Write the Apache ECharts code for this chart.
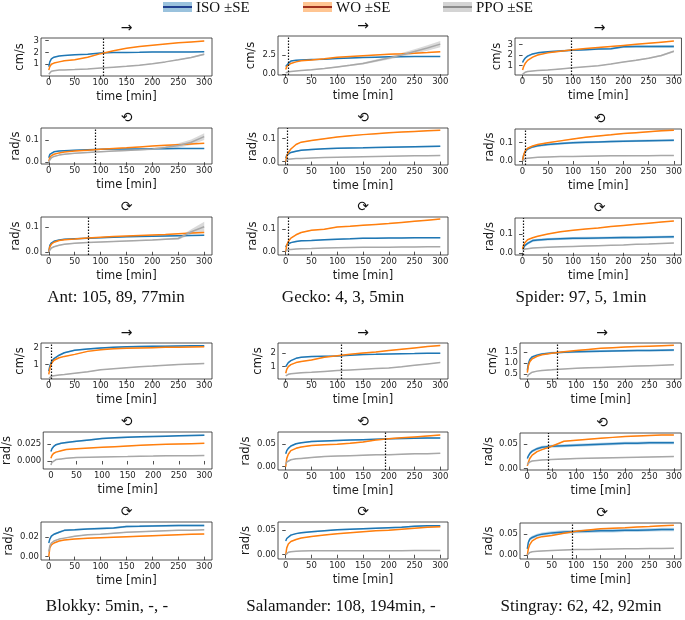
<!DOCTYPE html>
<html><head><meta charset="utf-8">
<script src="https://cdn.jsdelivr.net/npm/echarts@6/dist/echarts.min.js"></script>
<style>html,body{margin:0;padding:0;background:#fff}#c{width:685px;height:620px}</style>
</head><body><div id="c"></div>
<script>
// ---------- shared ----------
const times = [0,2,5,10,20,30,50,75,100,125,150,175,200,225,250,275,300];
const xTicks = [0,50,100,150,200,250,300];
const models = ['ISO ±SE','WO ±SE','PPO ±SE'];
const dirTitles = ['→','⟲','⟳'];
const captions = ['Ant: 105, 89, 77min','Gecko: 4, 3, 5min','Spider: 97, 5, 1min','Blokky: 5min, -, -','Salamander: 108, 194min, -','Stingray: 62, 42, 92min'];

// ---------- Ant ----------
const antThresh = [105, 89, 77];
const antFwdISO = [0.8,1.2,1.45,1.6,1.7,1.75,1.8,1.85,1.95,2.0,2.0,2.02,2.05,2.05,2.05,2.05,2.07];
const antFwdISOse = [0.05,0.04,0.03,0.03,0.03,0.03,0.03,0.03,0.03,0.03,0.03,0.03,0.03,0.03,0.03,0.04,0.04];
const antFwdWO = [0.5,0.8,1.0,1.1,1.2,1.3,1.38,1.6,1.9,2.15,2.35,2.5,2.62,2.72,2.82,2.9,2.98];
const antFwdWOse = [0.03,0.03,0.03,0.03,0.02,0.02,0.02,0.02,0.02,0.02,0.02,0.02,0.02,0.02,0.02,0.03,0.03];
const antFwdPPO = [0.15,0.3,0.4,0.45,0.5,0.52,0.55,0.6,0.68,0.75,0.82,0.92,1.05,1.2,1.38,1.58,1.85];
const antFwdPPOse = [0.02,0.02,0.02,0.02,0.02,0.02,0.02,0.02,0.02,0.02,0.03,0.03,0.04,0.04,0.05,0.06,0.08];
const antFwdTicks = [1,2,3];
const antCcwISO = [0.02,0.035,0.042,0.047,0.05,0.052,0.054,0.056,0.058,0.059,0.06,0.06,0.061,0.061,0.062,0.062,0.062];
const antCcwISOse = [0.002,0.002,0.002,0.002,0.002,0.002,0.002,0.002,0.002,0.002,0.002,0.002,0.002,0.002,0.002,0.002,0.002];
const antCcwWO = [0.005,0.02,0.03,0.036,0.042,0.046,0.05,0.054,0.058,0.062,0.065,0.069,0.073,0.076,0.079,0.082,0.085];
const antCcwWOse = [0.0015,0.0015,0.0015,0.0015,0.0015,0.0015,0.0015,0.0015,0.0015,0.0015,0.0015,0.0015,0.0015,0.0015,0.0015,0.0015,0.0015];
const antCcwPPO = [0.0,0.01,0.02,0.026,0.032,0.036,0.04,0.044,0.047,0.05,0.053,0.056,0.06,0.066,0.075,0.09,0.115];
const antCcwPPOse = [0.002,0.002,0.002,0.002,0.002,0.002,0.002,0.002,0.002,0.003,0.003,0.004,0.005,0.006,0.01,0.012,0.015];
const antCcwTicks = [0.0,0.1];
const antCwISO = [0.0,0.025,0.035,0.042,0.047,0.05,0.052,0.054,0.056,0.058,0.06,0.061,0.062,0.063,0.064,0.065,0.066];
const antCwISOse = [0.002,0.002,0.002,0.002,0.002,0.002,0.002,0.002,0.002,0.002,0.002,0.002,0.002,0.002,0.002,0.002,0.002];
const antCwWO = [0.0,0.02,0.03,0.038,0.045,0.048,0.051,0.055,0.058,0.061,0.063,0.065,0.067,0.069,0.072,0.075,0.077];
const antCwWOse = [0.0015,0.0015,0.0015,0.0015,0.0015,0.0015,0.0015,0.0015,0.0015,0.0015,0.0015,0.0015,0.0015,0.0015,0.0015,0.0015,0.0015];
const antCwPPO = [0.0,0.008,0.015,0.02,0.026,0.03,0.034,0.037,0.039,0.041,0.043,0.045,0.047,0.05,0.053,0.08,0.1];
const antCwPPOse = [0.002,0.002,0.002,0.002,0.002,0.002,0.002,0.002,0.002,0.002,0.002,0.002,0.002,0.003,0.005,0.01,0.02];
const antCwTicks = [0.0,0.1];

// ---------- Gecko ----------
const geckoThresh = [4, 3, 5];
const geckoFwdISO = [1.0,1.2,1.4,1.7,1.8,1.85,1.9,1.95,2.05,2.1,2.15,2.2,2.25,2.27,2.28,2.28,2.28];
const geckoFwdISOse = [0.05,0.05,0.05,0.05,0.05,0.05,0.05,0.05,0.05,0.05,0.05,0.05,0.05,0.05,0.05,0.05,0.05];
const geckoFwdWO = [0.6,1.0,1.25,1.4,1.6,1.75,1.85,2.0,2.2,2.3,2.4,2.5,2.6,2.65,2.72,2.8,2.9];
const geckoFwdWOse = [0.04,0.04,0.04,0.04,0.04,0.04,0.04,0.04,0.04,0.04,0.04,0.04,0.04,0.04,0.04,0.04,0.04];
const geckoFwdPPO = [0.2,0.25,0.3,0.35,0.42,0.48,0.58,0.75,0.95,1.15,1.4,1.75,2.1,2.5,2.95,3.4,3.9];
const geckoFwdPPOse = [0.03,0.03,0.03,0.03,0.04,0.04,0.05,0.06,0.08,0.1,0.13,0.16,0.2,0.25,0.3,0.35,0.4];
const geckoFwdTicks = [0.0,2.5];
const geckoCcwISO = [0.015,0.028,0.035,0.04,0.045,0.05,0.053,0.056,0.058,0.059,0.06,0.062,0.063,0.064,0.065,0.066,0.067];
const geckoCcwISOse = [0.003,0.003,0.003,0.003,0.003,0.003,0.003,0.003,0.003,0.003,0.003,0.003,0.003,0.003,0.003,0.003,0.003];
const geckoCcwWO = [0.0,0.025,0.04,0.055,0.075,0.085,0.092,0.1,0.108,0.113,0.118,0.122,0.126,0.129,0.132,0.135,0.137];
const geckoCcwWOse = [0.002,0.002,0.002,0.002,0.002,0.002,0.002,0.002,0.002,0.002,0.002,0.002,0.002,0.002,0.002,0.002,0.002];
const geckoCcwPPO = [0.005,0.008,0.01,0.011,0.013,0.014,0.016,0.018,0.019,0.02,0.021,0.022,0.023,0.024,0.025,0.026,0.027];
const geckoCcwPPOse = [0.001,0.001,0.001,0.001,0.001,0.001,0.001,0.001,0.001,0.001,0.001,0.001,0.001,0.001,0.001,0.001,0.001];
const geckoCcwTicks = [0.0,0.1];
const geckoCwISO = [0.02,0.03,0.035,0.04,0.045,0.048,0.05,0.053,0.055,0.057,0.06,0.06,0.061,0.061,0.062,0.062,0.062];
const geckoCwISOse = [0.003,0.003,0.003,0.003,0.003,0.003,0.003,0.003,0.003,0.003,0.003,0.003,0.003,0.003,0.003,0.003,0.003];
const geckoCwWO = [0.0,0.03,0.045,0.06,0.075,0.085,0.095,0.1,0.11,0.113,0.117,0.121,0.125,0.13,0.135,0.14,0.145];
const geckoCwWOse = [0.002,0.002,0.002,0.002,0.002,0.002,0.002,0.002,0.002,0.002,0.002,0.002,0.002,0.002,0.002,0.002,0.002];
const geckoCwPPO = [0.005,0.007,0.009,0.01,0.012,0.013,0.014,0.016,0.017,0.018,0.019,0.02,0.02,0.021,0.021,0.022,0.022];
const geckoCwPPOse = [0.001,0.001,0.001,0.001,0.001,0.001,0.001,0.001,0.001,0.001,0.001,0.001,0.001,0.001,0.001,0.001,0.001];
const geckoCwTicks = [0.0,0.1];

// ---------- Spider ----------
const spiderThresh = [97, 5, 1];
const spiderFwdISO = [1.3,1.5,1.7,1.9,2.1,2.2,2.3,2.38,2.45,2.5,2.55,2.58,2.78,2.8,2.8,2.8,2.8];
const spiderFwdISOse = [0.08,0.08,0.08,0.08,0.08,0.08,0.08,0.08,0.08,0.08,0.08,0.08,0.12,0.12,0.12,0.13,0.13];
const spiderFwdWO = [0.6,0.9,1.2,1.5,1.8,2.0,2.2,2.35,2.5,2.6,2.7,2.8,2.9,3.0,3.1,3.2,3.3];
const spiderFwdWOse = [0.04,0.04,0.04,0.04,0.04,0.04,0.04,0.04,0.04,0.04,0.04,0.04,0.04,0.04,0.04,0.04,0.04];
const spiderFwdPPO = [0.2,0.3,0.38,0.45,0.5,0.55,0.6,0.7,0.8,0.9,1.0,1.15,1.35,1.5,1.7,1.95,2.35];
const spiderFwdPPOse = [0.03,0.03,0.03,0.03,0.03,0.03,0.03,0.03,0.03,0.03,0.03,0.04,0.04,0.05,0.06,0.08,0.1];
const spiderFwdTicks = [1,2,3];
const spiderCcwISO = [0.005,0.03,0.05,0.065,0.077,0.083,0.09,0.095,0.1,0.102,0.104,0.106,0.108,0.11,0.111,0.112,0.113];
const spiderCcwISOse = [0.006,0.006,0.006,0.006,0.006,0.006,0.006,0.006,0.006,0.006,0.006,0.006,0.006,0.006,0.006,0.006,0.006];
const spiderCcwWO = [0.0,0.03,0.055,0.07,0.082,0.09,0.1,0.11,0.12,0.13,0.137,0.143,0.15,0.155,0.16,0.165,0.168];
const spiderCcwWOse = [0.003,0.003,0.003,0.003,0.003,0.003,0.003,0.003,0.003,0.003,0.003,0.003,0.003,0.003,0.003,0.003,0.003];
const spiderCcwPPO = [0.0,0.008,0.012,0.015,0.018,0.02,0.022,0.024,0.025,0.026,0.027,0.028,0.028,0.029,0.029,0.03,0.03];
const spiderCcwPPOse = [0.002,0.002,0.002,0.002,0.002,0.002,0.002,0.002,0.002,0.002,0.002,0.002,0.002,0.002,0.002,0.002,0.002];
const spiderCcwTicks = [0.0,0.1];
const spiderCwISO = [0.02,0.03,0.04,0.05,0.065,0.068,0.072,0.075,0.077,0.078,0.079,0.08,0.081,0.082,0.083,0.084,0.085];
const spiderCwISOse = [0.007,0.007,0.007,0.007,0.007,0.007,0.007,0.007,0.007,0.007,0.007,0.007,0.007,0.007,0.007,0.007,0.007];
const spiderCwWO = [0.02,0.04,0.055,0.07,0.08,0.088,0.1,0.112,0.12,0.127,0.133,0.14,0.146,0.152,0.158,0.164,0.17];
const spiderCwWOse = [0.002,0.002,0.002,0.002,0.002,0.002,0.002,0.002,0.002,0.002,0.002,0.002,0.002,0.002,0.002,0.002,0.002];
const spiderCwPPO = [0.015,0.018,0.02,0.022,0.025,0.027,0.03,0.032,0.034,0.036,0.038,0.04,0.042,0.045,0.047,0.05,0.052];
const spiderCwPPOse = [0.002,0.002,0.002,0.002,0.002,0.002,0.002,0.002,0.002,0.002,0.002,0.002,0.002,0.002,0.002,0.002,0.002];
const spiderCwTicks = [0.0,0.1];

// ---------- Blokky ----------
const blokkyThresh = [5, null, null];
const blokkyFwdISO = [0.6,0.9,1.15,1.35,1.55,1.7,1.85,1.92,1.98,2.02,2.05,2.07,2.08,2.09,2.1,2.11,2.12];
const blokkyFwdISOse = [0.04,0.04,0.04,0.04,0.04,0.04,0.04,0.04,0.04,0.04,0.04,0.04,0.04,0.04,0.04,0.04,0.04];
const blokkyFwdWO = [0.4,0.75,1.05,1.25,1.4,1.48,1.6,1.78,1.88,1.93,1.96,1.98,2.0,2.02,2.03,2.04,2.05];
const blokkyFwdWOse = [0.03,0.03,0.03,0.03,0.03,0.03,0.03,0.03,0.03,0.03,0.03,0.03,0.03,0.03,0.03,0.03,0.03];
const blokkyFwdPPO = [0.15,0.25,0.3,0.33,0.37,0.4,0.47,0.56,0.68,0.74,0.8,0.86,0.9,0.95,0.99,1.02,1.05];
const blokkyFwdPPOse = [0.02,0.02,0.02,0.02,0.02,0.02,0.02,0.02,0.02,0.02,0.02,0.02,0.02,0.02,0.02,0.02,0.02];
const blokkyFwdTicks = [1,2];
const blokkyCcwISO = [0.014,0.018,0.021,0.024,0.026,0.027,0.029,0.031,0.033,0.034,0.035,0.0355,0.036,0.0365,0.037,0.0375,0.038];
const blokkyCcwISOse = [0.0012,0.0012,0.0012,0.0012,0.0012,0.0012,0.0012,0.0012,0.0012,0.0012,0.0012,0.0012,0.0012,0.0012,0.0012,0.0012,0.0012];
const blokkyCcwWO = [0.004,0.008,0.011,0.013,0.015,0.017,0.018,0.019,0.02,0.021,0.022,0.023,0.024,0.0245,0.025,0.0255,0.026];
const blokkyCcwWOse = [0.0006,0.0006,0.0006,0.0006,0.0006,0.0006,0.0006,0.0006,0.0006,0.0006,0.0006,0.0006,0.0006,0.0006,0.0006,0.0006,0.0006];
const blokkyCcwPPO = [-0.006,-0.002,0.0,0.002,0.003,0.004,0.005,0.0055,0.006,0.0063,0.0066,0.007,0.0072,0.0075,0.0077,0.0078,0.008];
const blokkyCcwPPOse = [0.0005,0.0005,0.0005,0.0005,0.0005,0.0005,0.0005,0.0005,0.0005,0.0005,0.0005,0.0005,0.0005,0.0005,0.0005,0.0005,0.0005];
const blokkyCcwTicks = [0.0,0.025];
const blokkyCwISO = [0.014,0.018,0.021,0.023,0.025,0.027,0.0275,0.0285,0.029,0.0295,0.031,0.0312,0.0315,0.0318,0.032,0.032,0.032];
const blokkyCwISOse = [0.001,0.001,0.001,0.001,0.001,0.001,0.001,0.001,0.001,0.001,0.001,0.001,0.001,0.001,0.001,0.001,0.001];
const blokkyCwWO = [0.0,0.009,0.012,0.014,0.016,0.017,0.018,0.019,0.0195,0.02,0.0205,0.021,0.0215,0.022,0.0225,0.023,0.0233];
const blokkyCwWOse = [0.0005,0.0005,0.0005,0.0005,0.0005,0.0005,0.0005,0.0005,0.0005,0.0005,0.0005,0.0005,0.0005,0.0005,0.0005,0.0005,0.0005];
const blokkyCwPPO = [0.005,0.011,0.014,0.016,0.018,0.019,0.021,0.0225,0.023,0.024,0.025,0.0255,0.026,0.0265,0.027,0.027,0.0275];
const blokkyCwPPOse = [0.0005,0.0005,0.0005,0.0005,0.0005,0.0005,0.0005,0.0005,0.0005,0.0005,0.0005,0.0005,0.0005,0.0005,0.0005,0.0005,0.0005];
const blokkyCwTicks = [0.0,0.02];

// ---------- Salamander ----------
const salamanderThresh = [108, 194, null];
const salamanderFwdISO = [1.0,1.15,1.3,1.45,1.62,1.7,1.75,1.78,1.8,1.85,1.9,1.92,1.95,1.97,1.98,2.0,2.0];
const salamanderFwdISOse = [0.04,0.04,0.04,0.04,0.04,0.04,0.04,0.04,0.04,0.04,0.04,0.04,0.04,0.04,0.04,0.04,0.04];
const salamanderFwdWO = [0.5,0.8,1.0,1.15,1.3,1.38,1.5,1.7,1.82,1.92,2.02,2.1,2.2,2.3,2.4,2.5,2.58];
const salamanderFwdWOse = [0.03,0.03,0.03,0.03,0.03,0.03,0.03,0.03,0.03,0.03,0.03,0.03,0.03,0.03,0.03,0.03,0.03];
const salamanderFwdPPO = [0.3,0.37,0.42,0.47,0.5,0.53,0.57,0.64,0.7,0.75,0.8,0.85,0.9,0.98,1.1,1.2,1.3];
const salamanderFwdPPOse = [0.02,0.02,0.02,0.02,0.02,0.02,0.02,0.02,0.02,0.02,0.02,0.02,0.02,0.02,0.02,0.02,0.02];
const salamanderFwdTicks = [1,2];
const salamanderCcwISO = [0.028,0.035,0.04,0.045,0.05,0.052,0.055,0.056,0.057,0.058,0.059,0.06,0.061,0.0615,0.062,0.0625,0.0625];
const salamanderCcwISOse = [0.0015,0.0015,0.0015,0.0015,0.0015,0.0015,0.0015,0.0015,0.0015,0.0015,0.0015,0.0015,0.0015,0.0015,0.0015,0.0015,0.0015];
const salamanderCcwWO = [0.0,0.018,0.027,0.035,0.04,0.043,0.046,0.048,0.049,0.051,0.054,0.058,0.061,0.063,0.065,0.067,0.069];
const salamanderCcwWOse = [0.001,0.001,0.001,0.001,0.001,0.001,0.001,0.001,0.001,0.001,0.001,0.001,0.001,0.001,0.001,0.001,0.001];
const salamanderCcwPPO = [0.005,0.01,0.013,0.015,0.017,0.018,0.02,0.022,0.023,0.024,0.025,0.026,0.026,0.027,0.028,0.028,0.029];
const salamanderCcwPPOse = [0.001,0.001,0.001,0.001,0.001,0.001,0.001,0.001,0.001,0.001,0.001,0.001,0.001,0.001,0.001,0.001,0.001];
const salamanderCcwTicks = [0.0,0.05];
const salamanderCwISO = [0.028,0.033,0.036,0.04,0.043,0.045,0.047,0.049,0.051,0.052,0.053,0.054,0.055,0.056,0.058,0.059,0.059];
const salamanderCwISOse = [0.0015,0.0015,0.0015,0.0015,0.0015,0.0015,0.0015,0.0015,0.0015,0.0015,0.0015,0.0015,0.0015,0.0015,0.0015,0.0015,0.0015];
const salamanderCwWO = [0.0,0.014,0.022,0.027,0.031,0.034,0.037,0.04,0.043,0.045,0.047,0.049,0.05,0.052,0.054,0.056,0.057];
const salamanderCwWOse = [0.0008,0.0008,0.0008,0.0008,0.0008,0.0008,0.0008,0.0008,0.0008,0.0008,0.0008,0.0008,0.0008,0.0008,0.0008,0.0008,0.0008];
const salamanderCwPPO = [0.0,0.003,0.005,0.006,0.007,0.0075,0.008,0.008,0.008,0.008,0.008,0.008,0.0082,0.0083,0.0085,0.0085,0.0085];
const salamanderCwPPOse = [0.0006,0.0006,0.0006,0.0006,0.0006,0.0006,0.0006,0.0006,0.0006,0.0006,0.0006,0.0006,0.0006,0.0006,0.0006,0.0006,0.0006];
const salamanderCwTicks = [0.0,0.05];

// ---------- Stingray ----------
const stingrayThresh = [62, 42, 92];
const stingrayFwdISO = [0.65,0.95,1.15,1.27,1.35,1.4,1.45,1.48,1.5,1.52,1.53,1.54,1.55,1.56,1.56,1.57,1.58];
const stingrayFwdISOse = [0.05,0.05,0.05,0.05,0.05,0.05,0.05,0.05,0.05,0.05,0.05,0.05,0.05,0.05,0.05,0.05,0.05];
const stingrayFwdWO = [0.55,0.85,1.05,1.18,1.3,1.37,1.44,1.5,1.56,1.61,1.66,1.69,1.72,1.74,1.76,1.78,1.8];
const stingrayFwdWOse = [0.02,0.02,0.02,0.02,0.02,0.02,0.02,0.02,0.02,0.02,0.02,0.02,0.02,0.02,0.02,0.02,0.02];
const stingrayFwdPPO = [0.35,0.45,0.52,0.57,0.62,0.65,0.68,0.72,0.75,0.77,0.79,0.81,0.83,0.85,0.87,0.89,0.91];
const stingrayFwdPPOse = [0.015,0.015,0.015,0.015,0.015,0.015,0.015,0.015,0.015,0.015,0.015,0.015,0.015,0.015,0.015,0.015,0.015];
const stingrayFwdTicks = [0.5,1.0,1.5];
const stingrayCcwISO = [0.02,0.025,0.03,0.035,0.04,0.043,0.045,0.046,0.047,0.048,0.049,0.05,0.051,0.051,0.052,0.052,0.052];
const stingrayCcwISOse = [0.003,0.003,0.003,0.003,0.003,0.003,0.003,0.003,0.003,0.003,0.003,0.003,0.003,0.003,0.003,0.003,0.003];
const stingrayCcwWO = [0.005,0.012,0.02,0.027,0.034,0.038,0.045,0.055,0.057,0.059,0.061,0.063,0.065,0.066,0.067,0.068,0.068];
const stingrayCcwWOse = [0.001,0.001,0.001,0.001,0.001,0.001,0.001,0.001,0.001,0.001,0.001,0.001,0.001,0.001,0.001,0.001,0.001];
const stingrayCcwPPO = [0.008,0.011,0.013,0.015,0.016,0.017,0.018,0.019,0.02,0.0205,0.021,0.0215,0.022,0.0225,0.023,0.0235,0.024];
const stingrayCcwPPOse = [0.0008,0.0008,0.0008,0.0008,0.0008,0.0008,0.0008,0.0008,0.0008,0.0008,0.0008,0.0008,0.0008,0.0008,0.0008,0.0008,0.0008];
const stingrayCcwTicks = [0.0,0.05];
const stingrayCwISO = [0.015,0.03,0.038,0.042,0.047,0.05,0.053,0.055,0.056,0.057,0.058,0.058,0.059,0.059,0.06,0.061,0.061];
const stingrayCwISOse = [0.004,0.004,0.004,0.004,0.004,0.004,0.004,0.004,0.004,0.004,0.004,0.004,0.004,0.004,0.004,0.004,0.004];
const stingrayCwWO = [0.0,0.015,0.025,0.034,0.041,0.044,0.047,0.052,0.057,0.06,0.063,0.064,0.065,0.067,0.068,0.07,0.071];
const stingrayCwWOse = [0.001,0.001,0.001,0.001,0.001,0.001,0.001,0.001,0.001,0.001,0.001,0.001,0.001,0.001,0.001,0.001,0.001];
const stingrayCwPPO = [0.0,0.004,0.006,0.008,0.009,0.01,0.011,0.012,0.013,0.0135,0.014,0.0145,0.015,0.0152,0.0155,0.0158,0.016];
const stingrayCwPPOse = [0.0008,0.0008,0.0008,0.0008,0.0008,0.0008,0.0008,0.0008,0.0008,0.0008,0.0008,0.0008,0.0008,0.0008,0.0008,0.0008,0.0008];
const stingrayCwTicks = [0.0,0.05];

// ---------- panel setup (axis limits + layout) ----------
const P = (unit, ticks, dec, ymin, ymax, iso, isoSe, wo, woSe, ppo, ppoSe, thr, left, top, width, height, yGap) =>
  ({unit, ticks, dec, ymin, ymax, iso, isoSe, wo, woSe, ppo, ppoSe, thr, left, top, width, height, yGap});
const panels = [
  P('cm/s', antFwdTicks, 0, 0.0, 3.23, antFwdISO, antFwdISOse, antFwdWO, antFwdWOse, antFwdPPO, antFwdPPOse, antThresh[0], 41, 38, 171, 38, 15),
  P('rad/s', antCcwTicks, 1, -0.008, 0.154, antCcwISO, antCcwISOse, antCcwWO, antCcwWOse, antCcwPPO, antCcwPPOse, antThresh[1], 41, 128, 171, 36, 19),
  P('rad/s', antCwTicks, 1, -0.013, 0.139, antCwISO, antCwISOse, antCwWO, antCwWOse, antCwPPO, antCwPPOse, antThresh[2], 41, 217, 171, 38, 19),
  P('cm/s', geckoFwdTicks, 1, -0.1, 4.95, geckoFwdISO, geckoFwdISOse, geckoFwdWO, geckoFwdWOse, geckoFwdPPO, geckoFwdPPOse, geckoThresh[0], 278, 36, 170, 39, 21),
  P('rad/s', geckoCcwTicks, 1, -0.015, 0.147, geckoCcwISO, geckoCcwISOse, geckoCcwWO, geckoCcwWOse, geckoCcwPPO, geckoCcwPPOse, geckoThresh[1], 278, 128, 170, 37, 19),
  P('rad/s', geckoCwTicks, 1, -0.015, 0.154, geckoCwISO, geckoCwISOse, geckoCwWO, geckoCwWOse, geckoCwPPO, geckoCwPPOse, geckoThresh[2], 278, 217, 170, 38, 19),
  P('cm/s', spiderFwdTicks, 0, 0.13, 3.59, spiderFwdISO, spiderFwdISOse, spiderFwdWO, spiderFwdWOse, spiderFwdPPO, spiderFwdPPOse, spiderThresh[0], 515, 38, 169, 37, 12),
  P('rad/s', spiderCcwTicks, 1, -0.022, 0.175, spiderCcwISO, spiderCcwISOse, spiderCcwWO, spiderCcwWOse, spiderCcwPPO, spiderCcwPPOse, spiderThresh[1], 515, 129, 169, 36, 19),
  P('rad/s', spiderCwTicks, 1, -0.012, 0.186, spiderCwISO, spiderCwISOse, spiderCwWO, spiderCwWOse, spiderCwPPO, spiderCwPPOse, spiderThresh[2], 515, 218, 169, 37, 19),
  P('cm/s', blokkyFwdTicks, 0, 0.13, 2.28, blokkyFwdISO, blokkyFwdISOse, blokkyFwdWO, blokkyFwdWOse, blokkyFwdPPO, blokkyFwdPPOse, blokkyThresh[0], 41, 343, 171, 36, 15),
  P('rad/s', blokkyCcwTicks, 3, -0.0118, 0.0426, blokkyCcwISO, blokkyCcwISOse, blokkyCcwWO, blokkyCcwWOse, blokkyCcwPPO, blokkyCcwPPOse, blokkyThresh[1], 41, 432, 171, 37, 29),
  P('rad/s', blokkyCwTicks, 2, -0.0035, 0.0356, blokkyCwISO, blokkyCwISOse, blokkyCwWO, blokkyCwWOse, blokkyCwPPO, blokkyCwPPOse, blokkyThresh[2], 41, 522, 171, 38, 26),
  P('cm/s', salamanderFwdTicks, 0, 0.07, 2.77, salamanderFwdISO, salamanderFwdISOse, salamanderFwdWO, salamanderFwdWOse, salamanderFwdPPO, salamanderFwdPPOse, salamanderThresh[0], 278, 343, 170, 36, 14),
  P('rad/s', salamanderCcwTicks, 2, -0.0074, 0.0757, salamanderCcwISO, salamanderCcwISOse, salamanderCcwWO, salamanderCcwWOse, salamanderCcwPPO, salamanderCcwPPOse, salamanderThresh[1], 278, 432, 170, 38, 26),
  P('rad/s', salamanderCwTicks, 2, -0.0087, 0.0667, salamanderCwISO, salamanderCwISOse, salamanderCwWO, salamanderCwWOse, salamanderCwPPO, salamanderCwPPOse, salamanderThresh[2], 278, 522, 170, 37, 26),
  P('cm/s', stingrayFwdTicks, 1, 0.261, 1.903, stingrayFwdISO, stingrayFwdISOse, stingrayFwdWO, stingrayFwdWOse, stingrayFwdPPO, stingrayFwdPPOse, stingrayThresh[0], 520, 343, 164, 36, 21),
  P('rad/s', stingrayCcwTicks, 2, -0.0034, 0.0719, stingrayCcwISO, stingrayCcwISOse, stingrayCcwWO, stingrayCcwWOse, stingrayCcwPPO, stingrayCcwPPOse, stingrayThresh[1], 520, 433, 164, 37, 24),
  P('rad/s', stingrayCwTicks, 2, -0.0094, 0.0766, stingrayCwISO, stingrayCwISOse, stingrayCwWO, stingrayCwWOse, stingrayCwPPO, stingrayCwPPOse, stingrayThresh[2], 520, 523, 164, 36, 24)
];
const captionPos = [[116,298],[343,298],[581,298],[107,607],[341,607],[581,607]];

const lineColors = ['#1f77b4','#ff7f0e','#a8a8a8'];
const bandColors = ['rgba(31,119,180,0.3)','rgba(255,127,14,0.3)','rgba(150,150,150,0.35)'];
const legendIconLine = ['#1f3f8f','#a0301c','#8c8c8c'];
const legendIconFill = ['rgba(31,119,180,0.45)','rgba(255,127,14,0.45)','rgba(160,160,160,0.45)'];
const legendX = [163, 303, 443];

const FONT = 'DejaVu Sans';
const grids = [], xAxes = [], yAxes = [], series = [], graphics = [];

panels.forEach((p, i) => {
  grids.push({left: p.left, top: p.top, width: p.width, height: p.height, show: true,
    borderColor: '#262626', borderWidth: 0.8, containLabel: false});
  xAxes.push({type: 'value', gridIndex: i, min: -15, max: 315,
    axisLine: {show: false}, splitLine: {show: false},
    axisTick: {show: true, length: 3.5, lineStyle: {color: '#262626', width: 0.8}, customValues: xTicks},
    axisLabel: {customValues: xTicks, fontSize: 8.5, color: '#262626', margin: 2, fontFamily: FONT},
    name: 'time [min]', nameLocation: 'middle', nameGap: 15,
    nameTextStyle: {fontSize: 11.5, fontFamily: FONT, color: '#1a1a1a'}});
  yAxes.push({type: 'value', gridIndex: i, min: p.ymin, max: p.ymax,
    axisLine: {show: false}, splitLine: {show: false},
    axisTick: {show: true, length: 3.5, lineStyle: {color: '#262626', width: 0.8}, customValues: p.ticks},
    axisLabel: {customValues: p.ticks, fontSize: 8.5, color: '#262626', margin: 2, fontFamily: FONT,
      formatter: v => Number(v).toFixed(p.dec)},
    name: p.unit, nameLocation: 'middle', nameGap: p.yGap,
    nameTextStyle: {fontSize: 11.5, fontFamily: FONT, color: '#1a1a1a'}});
  const groups = [[p.iso, p.isoSe], [p.wo, p.woSe], [p.ppo, p.ppoSe]];
  groups.forEach(([m, se], k) => {
    // ±SE band: polygon through upper and lower bounds, positioned by the axis scales
    series.push({type: 'custom', xAxisIndex: i, yAxisIndex: i, silent: true, z: 2,
      data: times.map((t, j) => [t, m[j] - se[j], m[j] + se[j]]),
      encode: {x: 0, y: [1, 2]},
      renderItem: (params, api) => {
        if (params.dataIndex !== 0) return null;
        const upper = [], lower = [];
        for (let j = 0; j < times.length; j++) {
          upper.push(api.coord([times[j], m[j] + se[j]]));
          lower.push(api.coord([times[j], m[j] - se[j]]));
        }
        return {type: 'polygon', silent: true, shape: {points: upper.concat(lower.reverse())},
          style: {fill: bandColors[k], stroke: null}};
      }});
    const s = {type: 'line', name: models[k], xAxisIndex: i, yAxisIndex: i,
      data: times.map((t, j) => [t, m[j]]), symbol: 'none', silent: true,
      lineStyle: {color: lineColors[k], width: 1.5}, z: 3};
    if (k === 0 && p.thr != null) {
      s.markLine = {symbol: ['none', 'none'], silent: true, label: {show: false},
        lineStyle: {type: [1.5, 1.5], color: '#111', width: 1.2}, data: [{xAxis: p.thr}]};
    }
    series.push(s);
  });
  graphics.push({type: 'text', x: p.left + p.width / 2, y: p.top - 10,
    style: {text: dirTitles[i % 3], font: '14px "DejaVu Sans"', fill: '#111', align: 'center', verticalAlign: 'middle'}});
});

captions.forEach((c, b) => {
  graphics.push({type: 'text', x: captionPos[b][0], y: captionPos[b][1],
    style: {text: c, font: '17px "Liberation Serif"', fill: '#111', align: 'center', verticalAlign: 'middle'}});
});

models.forEach((m, k) => {
  const x = legendX[k];
  graphics.push({type: 'rect', shape: {x: x, y: 2, width: 29, height: 10}, style: {fill: legendIconFill[k]}});
  graphics.push({type: 'line', shape: {x1: x, y1: 7, x2: x + 29, y2: 7}, style: {stroke: legendIconLine[k], lineWidth: 2}});
  graphics.push({type: 'text', x: x + 33, y: 8,
    style: {text: m, font: '15px "Liberation Serif"', fill: '#111', align: 'left', verticalAlign: 'middle'}});
});

const chart = echarts.init(document.getElementById('c'));
chart.setOption({animation: false, backgroundColor: '#fff', grid: grids, xAxis: xAxes, yAxis: yAxes, series: series, graphic: graphics});
</script>
</body></html>
